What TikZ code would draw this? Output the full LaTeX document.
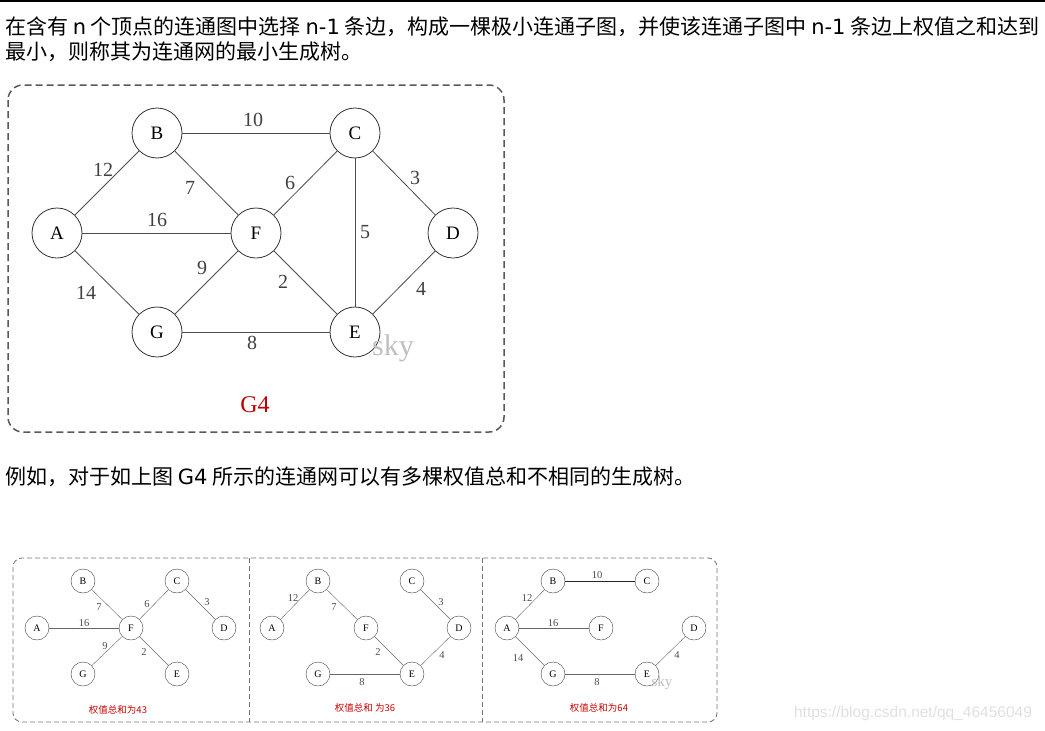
\documentclass[tikz,border=0pt]{standalone}
\usepackage{fontspec}
\setmainfont{Liberation Serif}
\newfontfamily\cjk{Noto Sans CJK SC}
\newfontfamily\verd{DejaVu Sans}
\usetikzlibrary{positioning}

\begin{document}
\begin{tikzpicture}
[x=1pt,y=-1pt,
 vtx/.style={circle,draw=black!80,thick,minimum size=50pt,inner sep=0pt,font=\fontsize{19}{19}\selectfont},
 wt/.style={inner sep=0pt,text=black!75,font=\fontsize{20}{20}\selectfont},
 svtx/.style={circle,draw=black!75,minimum size=24pt,inner sep=0pt,font=\fontsize{10}{10}\selectfont},
 swt/.style={inner sep=0pt,text=black!70,font=\fontsize{10.5}{10.5}\selectfont},
 txt/.style={inner sep=0pt,anchor=west,font=\cjk\fontsize{21}{21}\selectfont},
 sumlbl/.style={inner sep=0pt,text=red!80!black,font=\cjk\fontsize{9.5}{9.5}\selectfont},
 box/.style={draw=black!65,dashed,dash pattern=on 7pt off 4pt,rounded corners=15pt},
 sbox/.style={draw=black!55,dashed,dash pattern=on 5pt off 3pt,rounded corners=9pt},
 lnk/.style={draw=black!70,thick},
 slnk/.style={draw=black!60}]
\useasboundingbox (0,0) rectangle (1045,731);
\draw[black,line width=1.5pt] (0,1) -- (1045,1);

% text
\node[txt] (t1) at (5,27) {在含有 {\verd n} 个顶点的连通图中选择 {\verd n-1} 条边，构成一棵极小连通子图，并使该连通子图中 {\verd n-1} 条边上权值之和达到};
\node[txt] (t2) at (5,52) {最小，则称其为连通网的最小生成树。};
\node[txt] (t3) at (5,477) {例如，对于如上图 {\verd G4} 所示的连通网可以有多棵权值总和不相同的生成树。};

% graph G4
\draw[box,line width=1.5pt] (8,85) rectangle (504,432);
\node[vtx] (A) at (57,233)  {A};
\node[vtx] (B) at (157,133) {B};
\node[vtx] (C) at (355,133) {C};
\node[vtx] (D) at (453,233) {D};
\node[vtx] (E) at (355,332) {E};
\node[vtx] (F) at (256,233) {F};
\node[vtx] (G) at (157,332) {G};
\path[lnk] (B) edge (C);
\path[lnk] (A) edge (B);
\path[lnk] (B) edge (F);
\path[lnk] (F) edge (C);
\path[lnk] (C) edge (D);
\path[lnk] (A) edge (F);
\path[lnk] (C) edge (E);
\path[lnk] (G) edge (F);
\path[lnk] (F) edge (E);
\path[lnk] (A) edge (G);
\path[lnk] (E) edge (D);
\path[lnk] (G) edge (E);
\node[wt] (wBC) at (253,120) {10};
\node[wt] (wAB) at (103,170) {12};
\node[wt] (wBF) at (190,188) {7};
\node[wt] (wFC) at (290,183) {6};
\node[wt] (wCD) at (415,178) {3};
\node[wt] (wAF) at (157,220) {16};
\node[wt] (wCE) at (365,232) {5};
\node[wt] (wGF) at (202,268) {9};
\node[wt] (wFE) at (283,282) {2};
\node[wt] (wAG) at (86,293)  {14};
\node[wt] (wED) at (421,289) {4};
\node[wt] (wGE) at (252,343) {8};
\node[wt,text=black!25,font=\fontsize{30}{30}\selectfont] (sky) at (393,348) {sky};
\node[wt,text=red!75!black,font=\fontsize{24}{24}\selectfont] (g4) at (255,405) {G4};

% three spanning trees
\draw[sbox,line width=0.8pt] (13,558) rectangle (717,722);
\draw[black!55,dashed,dash pattern=on 5pt off 3pt,line width=0.8pt] (249,558) -- (249,722);
\draw[black!55,dashed,dash pattern=on 5pt off 3pt,line width=0.8pt] (482,558) -- (482,722);

% tree 1
\node[svtx] (pA) at (37,628)  {A};
\node[svtx] (pB) at (83,581)  {B};
\node[svtx] (pC) at (177,581) {C};
\node[svtx] (pD) at (224,628) {D};
\node[svtx] (pE) at (177,674) {E};
\node[svtx] (pF) at (131,628) {F};
\node[svtx] (pG) at (83,674)  {G};
\path[slnk] (pB) edge (pF);
\path[slnk] (pF) edge (pC);
\path[slnk] (pC) edge (pD);
\path[slnk] (pA) edge (pF);
\path[slnk] (pG) edge (pF);
\path[slnk] (pF) edge (pE);
\node[swt] (pwBF) at (99,607)  {7};
\node[swt] (pwFC) at (147,604) {6};
\node[swt] (pwCD) at (207,602) {3};
\node[swt] (pwAF) at (84,623)  {16};
\node[swt] (pwGF) at (105,646) {9};
\node[swt] (pwFE) at (144,652) {2};
\node[sumlbl] (psum) at (118,710) {权值总和为43};

% tree 2
\node[svtx] (qA) at (272,628) {A};
\node[svtx] (qB) at (318,581) {B};
\node[svtx] (qC) at (412,581) {C};
\node[svtx] (qD) at (459,628) {D};
\node[svtx] (qE) at (412,674) {E};
\node[svtx] (qF) at (366,628) {F};
\node[svtx] (qG) at (318,674) {G};
\path[slnk] (qA) edge (qB);
\path[slnk] (qB) edge (qF);
\path[slnk] (qC) edge (qD);
\path[slnk] (qF) edge (qE);
\path[slnk] (qE) edge (qD);
\path[slnk] (qG) edge (qE);
\node[swt] (qwAB) at (293,598) {12};
\node[swt] (qwBF) at (334,607) {7};
\node[swt] (qwCD) at (441,602) {3};
\node[swt] (qwFE) at (378,652) {2};
\node[swt] (qwED) at (442,655) {4};
\node[swt] (qwGE) at (362,682) {8};
\node[sumlbl] (qsum) at (365,708) {权值总和 为36};

% tree 3
\node[svtx] (rA) at (507,628) {A};
\node[svtx] (rB) at (553,581) {B};
\node[svtx] (rC) at (647,581) {C};
\node[svtx] (rD) at (694,628) {D};
\node[svtx] (rE) at (647,674) {E};
\node[svtx] (rF) at (601,628) {F};
\node[svtx] (rG) at (553,674) {G};
\path[slnk,draw=black!85] (rB) edge (rC);
\path[slnk] (rA) edge (rB);
\path[slnk] (rA) edge (rF);
\path[slnk] (rA) edge (rG);
\path[slnk] (rG) edge (rE);
\path[slnk] (rE) edge (rD);
\node[swt] (rwBC) at (597,575) {10};
\node[swt] (rwAB) at (527,598) {12};
\node[swt] (rwAF) at (553,623) {16};
\node[swt] (rwAG) at (518,658) {14};
\node[swt] (rwED) at (677,655) {4};
\node[swt] (rwGE) at (597,682) {8};
\node[swt,text=black!25,font=\fontsize{15}{15}\selectfont] (rsky) at (662,683) {sky};
\node[sumlbl] (rsum) at (599,708) {权值总和为64};

\node[inner sep=0pt,text=black!12,font=\fontsize{15.5}{15.5}\selectfont\fontspec{Liberation Sans}] (url) at (913,713) {https://blog.csdn.net/qq\_46456049};
\end{tikzpicture}
\end{document}
